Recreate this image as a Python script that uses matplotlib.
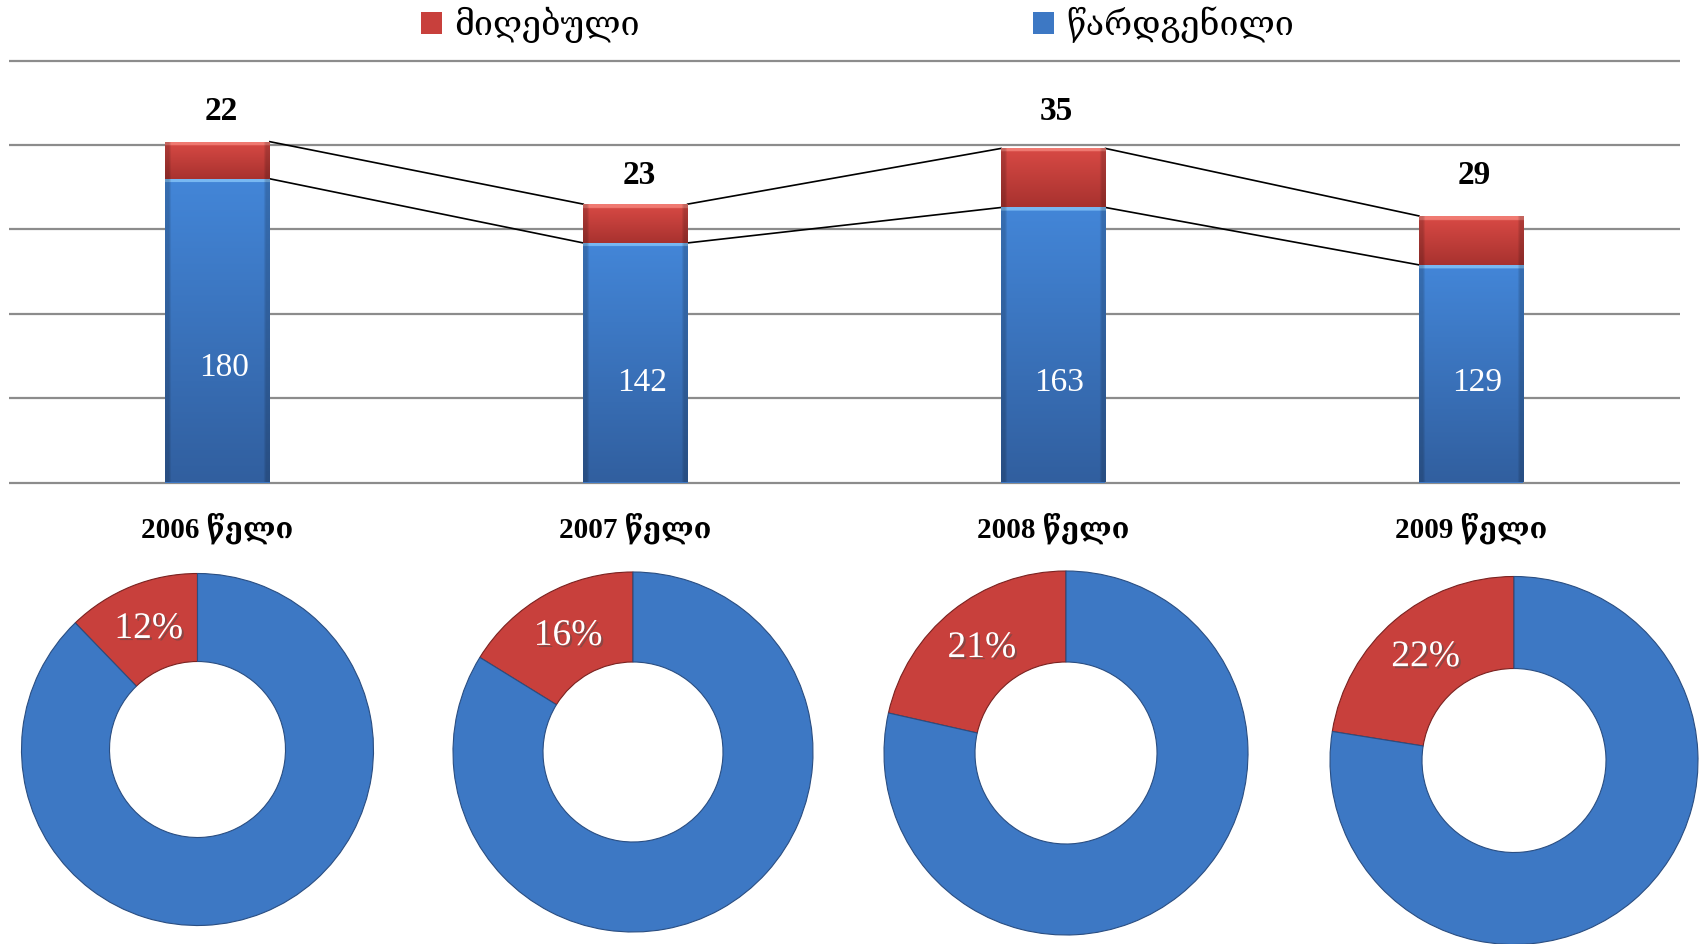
import matplotlib
matplotlib.use('Agg')
import matplotlib.pyplot as plt
import matplotlib.patheffects as pe
import matplotlib.transforms as mtransforms
from matplotlib.colors import to_rgb
import numpy as np

# data
years = ['2006', '2007', '2008', '2009']
submitted = [180, 142, 163, 129]   # წარდგენილი
received = [22, 23, 35, 29]        # მიღებული
legend_labels = ['მიღებული', 'წარდგენილი']
year_word = 'წელი'

# layout bits (label heights are in data units of the bar axis)
top_label_y = [220, 182, 220, 182]
inside_label_y = [68, 59, 59, 59]
donut_px = [(197.5, 749.5, 176), (633, 752, 180), (1066, 753, 182), (1514, 760.5, 184)]

blue = '#3d78c4'
red = '#c8403c'
fonts = ['Liberation Serif', 'DejaVu Serif', 'DejaVu Sans']
plt.rcParams['font.family'] = fonts

W, H = 1700, 944
fig = plt.figure(figsize=(W / 100, H / 100), dpi=100)

ppu = 421.8 / 250.0
y_lo, y_hi = -2, 252
bot_px = 482.5 - y_lo * ppu
top_px = 482.5 - y_hi * ppu
ax = fig.add_axes([8.7 / W, 1 - bot_px / H, (1680 - 8.7) / W, (bot_px - top_px) / H])

x = np.arange(len(years))
w = 0.25
totals = [s + r for s, r in zip(submitted, received)]
b1 = ax.bar(x, submitted, w, color=blue, zorder=3)
b2 = ax.bar(x, received, w, bottom=submitted, color=red, zorder=3)


def shade(bars, c_top, c_bot, c_hi):
    c_top, c_bot, c_hi = map(np.array, map(to_rgb, (c_top, c_bot, c_hi)))
    for p in bars:
        x0, y0, bw, bh = p.get_x(), p.get_y(), p.get_width(), p.get_height()
        n = 300
        t = np.linspace(0, 1, n)[:, None]
        col = c_bot + (c_top - c_bot) * t
        img = np.repeat(col[:, None, :], 40, axis=1)
        hi = 4.0 / ppu / bh
        img[t[:, 0] > 1 - hi] = c_hi
        edge = np.ones(40)
        edge[:2] = 0.82
        edge[-2:] = 0.82
        img = img * edge[None, :, None]
        im = ax.imshow(np.clip(img, 0, 1), extent=[x0, x0 + bw, y0, y0 + bh], origin='lower',
                       aspect='auto', zorder=4, interpolation='bilinear')
        im.set_clip_path(p)


shade(b1, '#4386d8', '#315f9f', '#78b8f2')
shade(b2, '#d94a45', '#a8322f', '#f07a72')

# series lines
for tops in (submitted, totals):
    for i in range(len(x) - 1):
        ax.plot([x[i] + w / 2, x[i + 1] - w / 2], [tops[i], tops[i + 1]],
                color='black', lw=1.2, zorder=2)

for i in range(len(x)):
    ax.text(x[i] + 0.008, top_label_y[i], str(received[i]), ha='center', va='center',
            fontsize=24, fontweight='bold', color='black', zorder=6)
    ax.text(x[i] + 0.015, inside_label_y[i], str(submitted[i]), ha='center', va='center',
            fontsize=24, color='white', zorder=6)

ax.set_xlim(-0.5, 3.5)
ax.set_ylim(y_lo, y_hi)
ax.set_yticks(range(0, 251, 50))
ax.set_xticks([])
ax.yaxis.grid(True, color='#8c8c8c', lw=1.6)
ax.set_axisbelow(True)
ax.tick_params(length=0, labelleft=False)
for s in ax.spines.values():
    s.set_visible(False)

# year titles
tr = mtransforms.blended_transform_factory(ax.transData, fig.transFigure)
for i, yr in enumerate(years):
    fig.text(x[i], 1 - 528 / H, f'{yr} {year_word}', transform=tr, ha='center', va='center',
             fontsize=21, fontweight='bold')

# donuts
for i, (cx, cy, R) in enumerate(donut_px):
    dax = fig.add_axes([(cx - R) / W, (H - cy - R) / H, 2 * R / W, 2 * R / H])
    wedges, texts, autos = dax.pie(
        [received[i], submitted[i] - received[i]], colors=[red, blue], startangle=90,
        counterclock=True, radius=1, wedgeprops=dict(width=0.5, linewidth=0.8),
        autopct=lambda p: f'{p:.0f}%', pctdistance=0.74,
        textprops=dict(color='white', fontsize=27))
    wedges[0].set_edgecolor('#7a2220')
    wedges[1].set_edgecolor('#2a4e82')
    autos[1].set_text('')
    autos[0].set_path_effects([pe.SimplePatchShadow(offset=(1.5, -1.5), alpha=0.5), pe.Normal()])
    dax.set_xlim(-1, 1)
    dax.set_ylim(-1, 1)

fig.legend(handles=[b2, b1], labels=legend_labels, ncol=2, loc='center left',
           bbox_to_anchor=(421 / W, 1 - 25 / H), frameon=False, fontsize=24.5,
           handlelength=0.62, handleheight=0.62, handletextpad=0.35, columnspacing=11.56,
           borderpad=0, borderaxespad=0)

fig.savefig('out.png', dpi=100)
